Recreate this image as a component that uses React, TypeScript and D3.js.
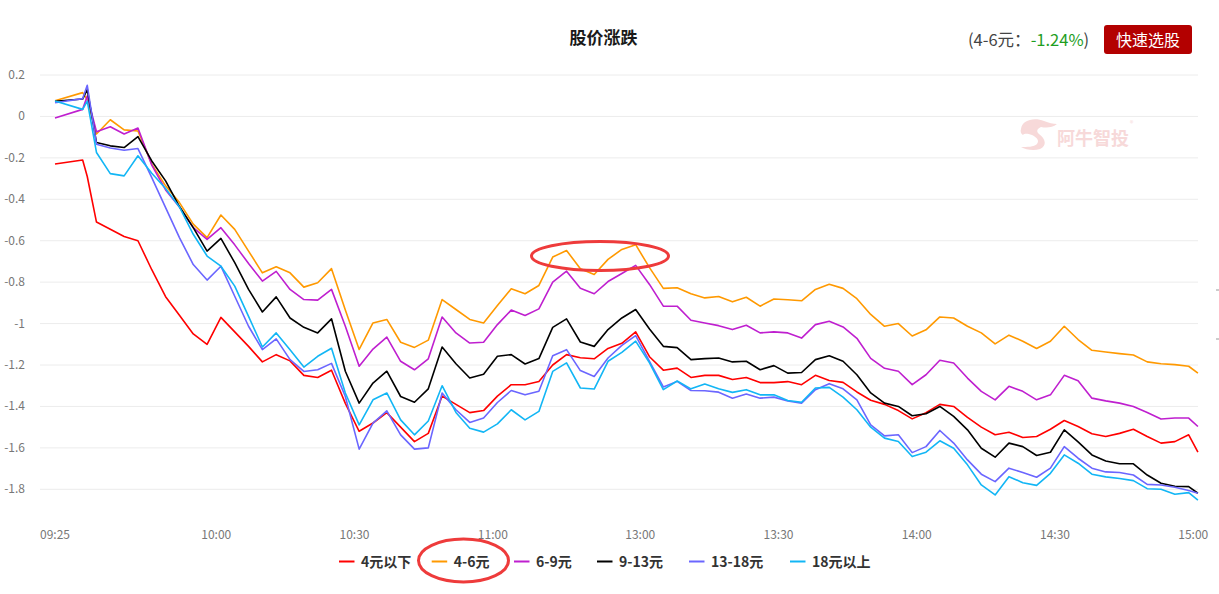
import React from "react";
import * as d3 from "d3";

// minute index since 09:25 (11:30 = 125, 13:00 = 127, 15:00 = 247)
const times = [0, 6, 7, 9, 12, 15, 18, 21, 24, 27, 30, 33, 36, 39, 42, 45, 48, 51, 54, 57, 60, 63, 66, 69, 72, 75, 78, 81,
  84, 87, 90, 93, 96, 99, 102, 105, 108, 111, 114, 117, 120, 123, 126, 129, 132, 135, 138, 141, 144, 147, 150, 153, 156, 159, 162,
  165, 168, 171, 174, 177, 180, 183, 186, 189, 192, 195, 198, 201, 204, 207, 210, 213, 216, 219, 222, 225, 228, 231, 234, 237, 240, 243, 246, 248];

const s4below = [-0.23, -0.21, -0.29, -0.51, -0.545, -0.58, -0.6, -0.74, -0.87, -0.96, -1.05, -1.1, -0.97, -1.04, -1.11, -1.185, -1.15, -1.18, -1.25, -1.26, -1.225, -1.385, -1.52, -1.48, -1.43, -1.5, -1.57, -1.53,
  -1.35, -1.39, -1.43, -1.42, -1.35, -1.295, -1.295, -1.28, -1.2, -1.15, -1.165, -1.17, -1.12, -1.095, -1.04, -1.16, -1.225, -1.215, -1.26, -1.25, -1.25, -1.27, -1.26, -1.285, -1.285, -1.28, -1.295,
  -1.25, -1.275, -1.284, -1.33, -1.37, -1.39, -1.42, -1.46, -1.43, -1.39, -1.4, -1.453, -1.5, -1.537, -1.525, -1.55, -1.545, -1.51, -1.468, -1.497, -1.532, -1.545, -1.53, -1.51, -1.545, -1.577, -1.57, -1.537, -1.62];

const s4to6 = [0.076, 0.115, 0.08, -0.085, -0.016, -0.065, -0.07, -0.23, -0.335, -0.416, -0.52, -0.585, -0.476, -0.545, -0.65, -0.755, -0.726, -0.755, -0.824, -0.803, -0.735, -0.935, -1.125, -0.997, -0.98, -1.09, -1.115, -1.08,
  -0.884, -0.932, -0.98, -0.997, -0.913, -0.832, -0.856, -0.816, -0.679, -0.647, -0.735, -0.763, -0.69, -0.642, -0.619, -0.73, -0.83, -0.827, -0.856, -0.876, -0.869, -0.895, -0.873, -0.916, -0.881, -0.885, -0.89,
  -0.835, -0.81, -0.83, -0.88, -0.956, -1.013, -1.0, -1.06, -1.03, -0.968, -0.973, -1.013, -1.045, -1.098, -1.056, -1.085, -1.12, -1.085, -1.013, -1.077, -1.129, -1.137, -1.145, -1.152, -1.185, -1.194, -1.198, -1.206, -1.239];

const s6to9 = [-0.008, 0.034, 0.098, -0.074, -0.05, -0.085, -0.056, -0.235, -0.355, -0.437, -0.537, -0.594, -0.537, -0.62, -0.71, -0.795, -0.748, -0.835, -0.884, -0.887, -0.835, -1.013, -1.206, -1.123, -1.065, -1.182, -1.223, -1.17,
  -0.968, -1.045, -1.094, -1.09, -1.005, -0.935, -0.961, -0.929, -0.8, -0.747, -0.829, -0.856, -0.797, -0.758, -0.719, -0.811, -0.916, -0.916, -0.984, -0.997, -1.01, -1.029, -1.008, -1.045, -1.04, -1.045, -1.07,
  -1.005, -0.989, -1.016, -1.071, -1.168, -1.216, -1.23, -1.295, -1.247, -1.177, -1.19, -1.263, -1.327, -1.368, -1.303, -1.327, -1.368, -1.344, -1.25, -1.276, -1.36, -1.373, -1.384, -1.4, -1.429, -1.461, -1.456, -1.456, -1.497];

const s9to13 = [0.073, 0.084, 0.13, -0.126, -0.142, -0.15, -0.097, -0.215, -0.311, -0.435, -0.537, -0.65, -0.589, -0.706, -0.835, -0.944, -0.871, -0.973, -1.018, -1.045, -0.977, -1.23, -1.384, -1.287, -1.23, -1.352, -1.38, -1.315,
  -1.113, -1.194, -1.263, -1.245, -1.158, -1.15, -1.195, -1.169, -1.018, -0.977, -1.089, -1.11, -1.029, -0.973, -0.932, -1.026, -1.11, -1.116, -1.174, -1.169, -1.166, -1.185, -1.182, -1.223, -1.203, -1.239, -1.236,
  -1.174, -1.155, -1.182, -1.247, -1.335, -1.384, -1.4, -1.445, -1.435, -1.4, -1.448, -1.513, -1.602, -1.645, -1.577, -1.594, -1.637, -1.621, -1.513, -1.571, -1.634, -1.663, -1.677, -1.677, -1.731, -1.771, -1.785, -1.787, -1.819];

const s13to18 = [0.066, 0.086, 0.15, -0.134, -0.152, -0.163, -0.155, -0.295, -0.44, -0.585, -0.715, -0.79, -0.723, -0.868, -1.013, -1.126, -1.074, -1.174, -1.231, -1.223, -1.192, -1.352, -1.606, -1.481, -1.421, -1.537, -1.606, -1.6,
  -1.335, -1.416, -1.477, -1.456, -1.381, -1.323, -1.344, -1.327, -1.155, -1.126, -1.227, -1.255, -1.166, -1.105, -1.058, -1.182, -1.306, -1.279, -1.323, -1.324, -1.331, -1.36, -1.34, -1.36, -1.355, -1.374, -1.384,
  -1.319, -1.29, -1.315, -1.368, -1.489, -1.542, -1.537, -1.623, -1.594, -1.516, -1.577, -1.658, -1.727, -1.763, -1.698, -1.719, -1.742, -1.698, -1.594, -1.65, -1.698, -1.716, -1.719, -1.731, -1.776, -1.779, -1.79, -1.806, -1.819];

const s18above = [0.074, 0.034, 0.074, -0.174, -0.276, -0.287, -0.19, -0.274, -0.348, -0.437, -0.569, -0.674, -0.723, -0.819, -0.965, -1.113, -1.045, -1.126, -1.21, -1.158, -1.119, -1.335, -1.489, -1.368, -1.335, -1.465, -1.537, -1.47,
  -1.3, -1.429, -1.505, -1.524, -1.484, -1.416, -1.465, -1.424, -1.231, -1.19, -1.311, -1.316, -1.182, -1.139, -1.085, -1.19, -1.319, -1.277, -1.315, -1.292, -1.315, -1.332, -1.319, -1.344, -1.344, -1.371, -1.38,
  -1.311, -1.308, -1.355, -1.416, -1.5, -1.553, -1.569, -1.642, -1.621, -1.566, -1.602, -1.682, -1.779, -1.827, -1.739, -1.768, -1.781, -1.723, -1.634, -1.674, -1.727, -1.74, -1.748, -1.758, -1.797, -1.8, -1.824, -1.816, -1.852];

const seriesNames = ["4元以下", "4-6元", "6-9元", "9-13元", "13-18元", "18元以上"];
const seriesColors = ["#ff0000", "#ff9900", "#bf1fcf", "#000000", "#6b66ff", "#12b6f5"];
const seriesData = [s4below, s4to6, s6to9, s9to13, s13to18, s18above];

const xTickLabels = ["09:25", "10:00", "10:30", "11:00", "13:00", "13:30", "14:00", "14:30", "15:00"];
const xTickIndex = [0, 35, 65, 95, 127, 157, 187, 217, 247];
const yTicks = [0.2, 0, -0.2, -0.4, -0.6, -0.8, -1, -1.2, -1.4, -1.6, -1.8];

const W = 1219, H = 594;
const FONT = "'Noto Sans CJK SC', 'Noto Sans', sans-serif";

export default function App() {
  const x = d3.scaleLinear().domain([0, 247]).range([55, 1193.3]);
  const y = d3.scaleLinear().domain([-1.8, 0.2]).range([489.3, 75]);
  const line = d3.line<number>().x((_, i) => x(times[i])).y((d) => y(d));

  const legendLineX = [339, 431.7, 514, 597, 689, 790];

  return (
    <svg width={W} height={H} style={{ position: "absolute", left: 0, top: 0, background: "#fff" }} fontFamily={FONT}>
      {/* title */}
      <text x={603.5} y={43.5} textAnchor="middle" fontSize={17} fontWeight="bold" fill="#1a1a1a">股价涨跌</text>
      {/* header info */}
      <text x={968} y={46} fontSize={16.5} fill="#444">
        <tspan>(4-6元：</tspan>
        <tspan fill="#1f9e1f">-1.24%</tspan>
        <tspan fill="#444">)</tspan>
      </text>
      <rect x={1104} y={25} width={88} height={29} rx={3} fill="#b30000" />
      <text x={1148} y={45.5} textAnchor="middle" fontSize={16} fill="#fff">快速选股</text>

      {/* watermark */}
      <g fill="#f7d9d9">
        <path d="M1021,129 C1022,120 1034,117 1044,121 C1049,123 1053,124 1057,124 C1052,128 1046,128 1041,127 C1037,129 1036,131 1039,134 C1046,139 1047,146 1040,149 C1034,151 1026,150 1021,147 C1027,147 1034,147 1037,144 C1040,140 1036,137 1032,135 C1028,134 1025,133 1023,135 C1021,134 1020,131 1021,129 Z" />
        <text x={1057} y={145} fontSize={18} fontWeight="bold">阿牛智投</text>
        <text x={1130} y={126} fontSize={7}>®</text>
      </g>

      {/* grid */}
      {yTicks.map((t) => (
        <line key={"g" + t} x1={40} x2={1198} y1={y(t)} y2={y(t)} stroke="#ececec" strokeWidth={1} />
      ))}
      {yTicks.map((t) => (
        <text key={"yl" + t} x={25} y={y(t) + 4} textAnchor="end" fontSize={12} fill="#777">{d3.format("")(t).replace("−", "-")}</text>
      ))}
      {xTickLabels.map((lab, i) => (
        <text key={"xl" + lab} x={x(xTickIndex[i])} y={539} textAnchor="middle" fontSize={12} fill="#777">{lab}</text>
      ))}
      {/* clipped right-axis marks */}
      <line x1={1216} x2={1219} y1={290} y2={290} stroke="#999" />
      <line x1={1216} x2={1219} y1={339} y2={339} stroke="#999" />

      {/* series lines */}
      {seriesData.map((d, i) => (
        <path key={seriesNames[i]} d={line(d) || ""} fill="none" stroke={seriesColors[i]} strokeWidth={1.6} strokeLinejoin="round" />
      ))}

      {/* legend */}
      {seriesNames.map((n, i) => (
        <g key={"lg" + n}>
          <line x1={legendLineX[i]} x2={legendLineX[i] + 15.5} y1={561.5} y2={561.5} stroke={seriesColors[i]} strokeWidth={2} />
          <text x={legendLineX[i] + 22} y={566.5} fontSize={14} fontWeight="bold" fill="#333">{n}</text>
        </g>
      ))}

      {/* annotations */}
      <ellipse cx={600} cy={256} rx={68.5} ry={14.5} fill="none" stroke="#ee3b3b" strokeWidth={3} />
      <ellipse cx={463.5} cy={560.5} rx={45} ry={21.5} fill="none" stroke="#ee3b3b" strokeWidth={3} />
    </svg>
  );
}
